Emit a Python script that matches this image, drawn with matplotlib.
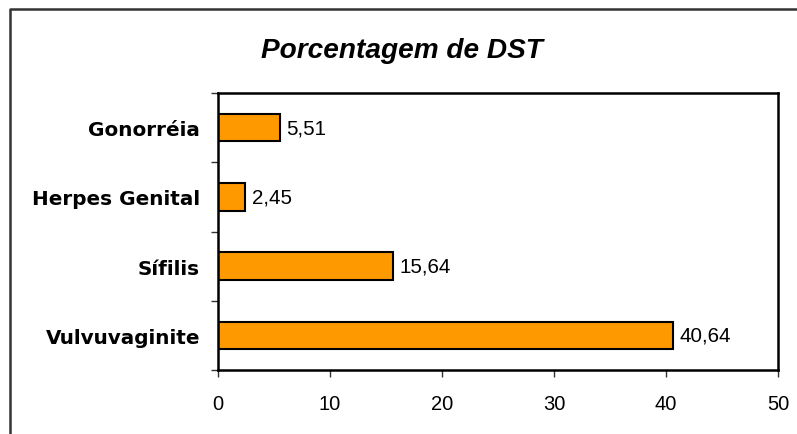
import matplotlib.pyplot as plt
from matplotlib.lines import Line2D

# data (bottom to top, as Excel draws it)
categories = ['Vulvuvaginite', 'Sífilis', 'Herpes Genital', 'Gonorréia']
values = [40.64, 15.64, 2.45, 5.51]
xticks = [0, 10, 20, 30, 40, 50]

fig = plt.figure(figsize=(7.97, 4.35), dpi=100)
ax = fig.add_axes([218/797, 1 - 371/435, (778 - 218)/797, (371 - 94)/435])

ypos = list(range(len(categories)))
ax.barh(ypos, values, height=0.4, color='#FF9900', edgecolor='black', linewidth=1.5)

for y, v in zip(ypos, values):
    ax.text(v + 0.55, y, f'{v:.2f}'.replace('.', ','), va='center', ha='left',
            fontsize=14.8, family='Liberation Sans')

ax.set_xlim(0, 50)
ax.set_ylim(-0.5, len(categories) - 0.5)
ax.set_xticks(xticks)
ax.set_xticklabels([str(t) for t in xticks], fontsize=14.5, family='Liberation Sans')
ax.tick_params(axis='x', length=5, width=1, pad=12.5, color='#333333')

# category labels on major ticks, tick marks at category borders
ax.set_yticks(ypos)
ax.set_yticklabels(categories, fontsize=14.4, fontweight='bold', family='DejaVu Sans')
ax.tick_params(axis='y', which='major', length=0, pad=13)
ax.set_yticks([i - 0.5 for i in range(len(categories) + 1)], minor=True)
ax.tick_params(axis='y', which='minor', length=5, width=1, color='#333333')

for s in ax.spines.values():
    s.set_linewidth(1.8)
    s.set_color('black')

fig.text(402/797, 1 - 51/435, 'Porcentagem de DST', ha='center', va='center',
         fontsize=20.2, fontweight='bold', style='italic', family='Liberation Sans')

# outer chart border (partly cut by the image edge)
fig.add_artist(Line2D([10/797, 10/797, 1.0], [0.0, 1 - 10/435, 1 - 10/435],
                      transform=fig.transFigure, color='#333333', linewidth=1.8))

fig.savefig('out.png', dpi=100)
